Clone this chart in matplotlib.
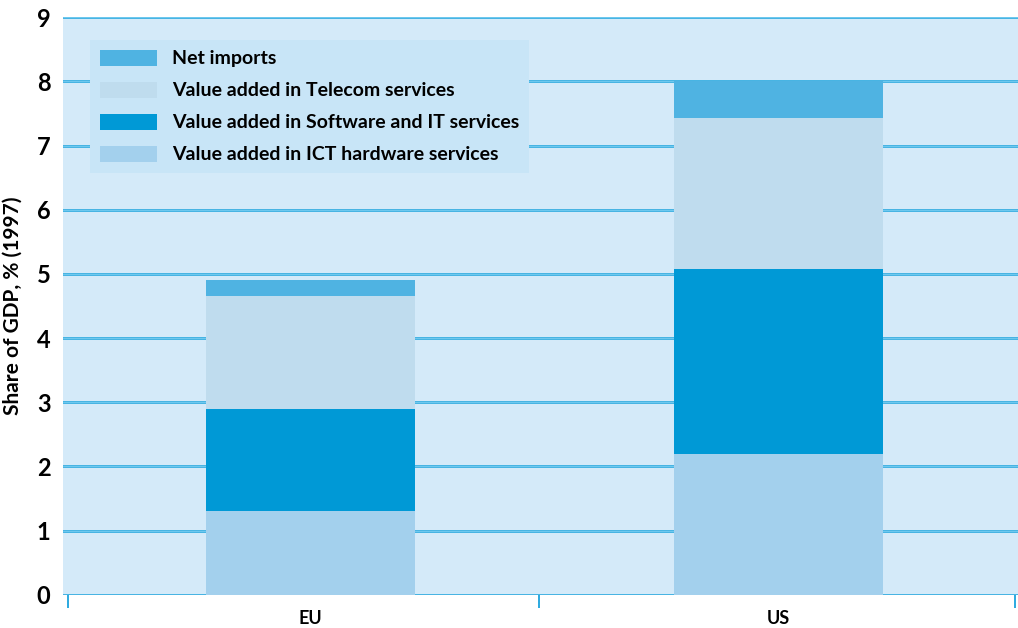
import matplotlib
matplotlib.use("Agg")
import matplotlib.pyplot as plt
from matplotlib.patches import Patch
import numpy as np

categories = ["EU", "US"]
hardware = [1.3, 2.2]
software = [1.6, 2.88]
telecom = [1.75, 2.35]
net_imports = [0.25, 0.57]
yticks = [0, 1, 2, 3, 4, 5, 6, 7, 8, 9]

series_labels = ["Value added in ICT hardware services",
                 "Value added in Software and IT services",
                 "Value added in Telecom services",
                 "Net imports"]
colors = ["#a3d0ed", "#0099d6", "#bfdcee", "#4fb3e2"]

plt.rcParams['font.family'] = ['Lato', 'DejaVu Sans']

fig = plt.figure(figsize=(10.18, 6.28), dpi=100)
W, H = 1018, 628
ax = fig.add_axes([63 / W, (H - 594.7) / H, (1018 - 63) / W, (594.7 - 17.3) / H])
ax.set_facecolor("#d4eaf9")

x = np.arange(len(categories))
bottom = np.zeros(len(categories))
data = [hardware, software, telecom, net_imports]
for vals, c in zip(data, colors):
    ax.bar(x, vals, width=0.447, bottom=bottom, color=c, zorder=3, linewidth=0)
    bottom = bottom + np.array(vals)

ax.set_ylim(0, 9)
ax.set_xlim(-0.5288, 1.5118)
ax.set_yticks(yticks)
ax.set_yticklabels([str(t) for t in yticks], fontsize=17, fontweight='bold')
ax.tick_params(axis='y', length=0, pad=9)
for t in yticks:
    ax.axhline(t, color="#1aa3dd", lw=1.8, zorder=2)
    ax.axhline(t, color="#7fd0f2", lw=0.6, zorder=2.1)

ax.set_xticks(x)
ax.set_xticklabels(categories, fontsize=13, fontweight='bold')
ax.set_xticks([-0.519, 0.488, 1.505], minor=True)
ax.tick_params(axis='x', which='major', length=0, pad=11)
ax.tick_params(axis='x', which='minor', length=9, width=1.3, color="#1aa3dd", direction='out')

for s in ax.spines.values():
    s.set_visible(False)

ax.set_ylabel("Share of GDP, % (1997)", fontsize=15, fontweight='bold', labelpad=10)

handles = [Patch(facecolor=c, edgecolor='none') for c in colors]
leg = ax.legend(handles[::-1], series_labels[::-1], loc='upper left',
                bbox_to_anchor=(0.0283, 0.9607), borderaxespad=0,
                frameon=True, fancybox=False, facecolor="#c8e5f7", edgecolor='none',
                framealpha=1, prop={'weight': 'bold', 'size': 14},
                handlelength=2.95, handleheight=0.9, labelspacing=0.73,
                handletextpad=0.75, borderpad=0.5)
leg.set_zorder(5)

fig.savefig("out.png", dpi=100)
